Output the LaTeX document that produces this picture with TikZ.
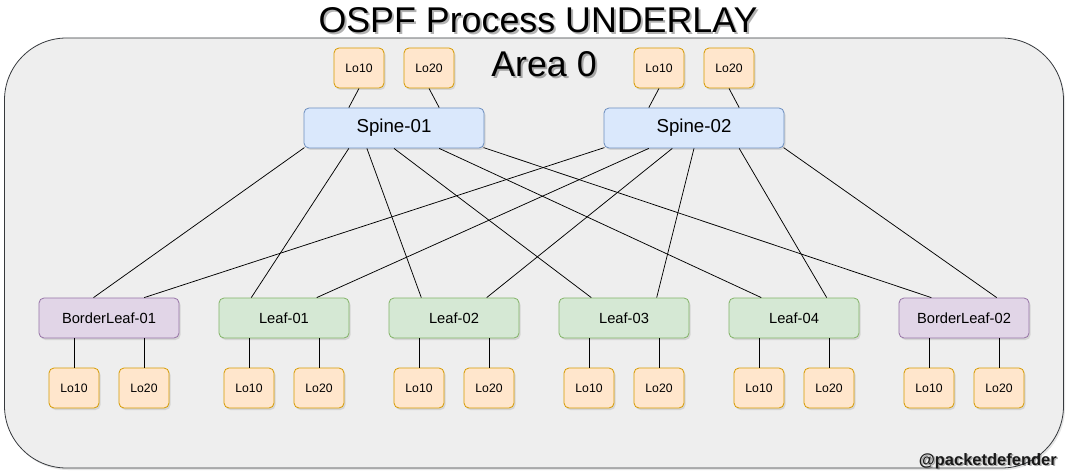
\documentclass[tikz,border=0pt]{standalone}
\usepackage{fontspec}
\setmainfont{Liberation Sans}
\usetikzlibrary{calc,shadows}
\definecolor{blueF}{HTML}{DAE8FC}\definecolor{blueD}{HTML}{6C8EBF}
\definecolor{greenF}{HTML}{D5E8D4}\definecolor{greenD}{HTML}{82B366}
\definecolor{purpF}{HTML}{E1D5E7}\definecolor{purpD}{HTML}{9673A6}
\definecolor{orF}{HTML}{FFE6CC}\definecolor{orD}{HTML}{D79B00}
\definecolor{contF}{HTML}{EEEEEE}\definecolor{contD}{HTML}{36393D}
\begin{document}
\begin{tikzpicture}[x=1pt,y=-1pt,
  box/.style={rounded corners=5pt, line width=0.8pt, inner sep=0pt,
    drop shadow={opacity=0.22, shadow xshift=1.5pt, shadow yshift=-2pt},
    font=\fontsize{14.7}{17}\selectfont},
  spinebox/.style={box, fill=blueF, draw=blueD, minimum width=180pt, minimum height=40pt, font=\fontsize{18.7}{21}\selectfont},
  leafbox/.style={box, fill=greenF, draw=greenD, minimum width=130pt, minimum height=40pt},
  borderbox/.style={box, fill=purpF, draw=purpD, minimum height=40pt},
  lobox/.style={box, fill=orF, draw=orD, minimum width=50pt, minimum height=40pt, font=\fontsize{12.2}{14}\selectfont},
  link/.style={line width=0.75pt, black},
  titletext/.style={font=\fontsize{35.8}{40}\selectfont, inner sep=0pt, anchor=base},
  shadowtext/.style={text=black, opacity=0.3}
]
\useasboundingbox (0,0) rectangle (1071,476);

% container
\node (area) [draw=contD, fill=contF, rounded corners=62pt, line width=0.8pt, inner sep=0pt,
  minimum width=1059pt, minimum height=430pt,
  drop shadow={opacity=0.2, shadow xshift=1.5pt, shadow yshift=-2pt}] at (534,253) {};

% titles
\node (titleS) [titletext, shadowtext] at (540,35) {OSPF Process UNDERLAY};
\node (title) [titletext] at (538,33) {OSPF Process UNDERLAY};
\node (areaS) [titletext, shadowtext] at (546,79) {Area 0};
\node (areat) [titletext] at (544,77) {Area 0};
\node (signS) [font=\bfseries\fontsize{16.5}{18}\selectfont, inner sep=0pt, anchor=base east, shadowtext] at (1058.5,466.5) {@packetdefender};
\node (sign) [font=\bfseries\fontsize{16.5}{18}\selectfont, inner sep=0pt, anchor=base east, text=black!90] at (1057,465) {@packetdefender};

% spines
\node (sp1) [spinebox] at (394,128) {Spine-01};
\node (sp2) [spinebox] at (694,128) {Spine-02};

% top loopbacks
\node (s1a) [lobox] at (359,68) {Lo10};
\node (s1b) [lobox] at (429,68) {Lo20};
\node (s2a) [lobox] at (659,68) {Lo10};
\node (s2b) [lobox] at (729,68) {Lo20};

% leaves
\node (bl1) [borderbox, minimum width=140pt] at (109,318) {BorderLeaf-01};
\node (l1) [leafbox] at (284,318) {Leaf-01};
\node (l2) [leafbox] at (454,318) {Leaf-02};
\node (l3) [leafbox] at (624,318) {Leaf-03};
\node (l4) [leafbox] at (794,318) {Leaf-04};
\node (bl2) [borderbox, minimum width=130pt] at (964,318) {BorderLeaf-02};

% bottom loopbacks
\foreach \n/\x in {bl1/74, l1/249, l2/419, l3/589, l4/759, bl2/929}{
  \node (\n a) [lobox] at (\x,388) {Lo10};
}
\foreach \n/\x in {bl1/144, l1/319, l2/489, l3/659, l4/829, bl2/999}{
  \node (\n b) [lobox] at (\x,388) {Lo20};
}

% top loopback links
\draw[link] (s1a.south) -- ($(sp1.north west)!0.25!(sp1.north east)$);
\draw[link] (s1b.south) -- ($(sp1.north west)!0.75!(sp1.north east)$);
\draw[link] (s2a.south) -- ($(sp2.north west)!0.25!(sp2.north east)$);
\draw[link] (s2b.south) -- ($(sp2.north west)!0.75!(sp2.north east)$);

% bottom loopback links
\foreach \n in {bl1,l1,l2,l3,l4,bl2}{
  \draw[link] (\n a.north) -- (\n a.north |- \n.south);
  \draw[link] (\n b.north) -- (\n b.north |- \n.south);
}

% spine-01 links
\draw[link] ($(sp1.south west)+(0.8,-0.8)$) -- ($(bl1.north west)!0.39!(bl1.north east)$);
\draw[link] ($(sp1.south west)!0.25!(sp1.south east)$) -- ($(l1.north west)!0.25!(l1.north east)$);
\draw[link] ($(sp1.south west)!0.35!(sp1.south east)$) -- ($(l2.north west)!0.25!(l2.north east)$);
\draw[link] ($(sp1.south west)!0.5!(sp1.south east)$) -- ($(l3.north west)!0.25!(l3.north east)$);
\draw[link] ($(sp1.south west)!0.75!(sp1.south east)$) -- ($(l4.north west)!0.25!(l4.north east)$);
\draw[link] ($(sp1.south east)+(-0.8,-0.8)$) -- ($(bl2.north west)!0.25!(bl2.north east)$);

% spine-02 links
\draw[link] ($(sp2.south west)+(0.8,-0.8)$) -- ($(bl1.north west)!0.75!(bl1.north east)$);
\draw[link] ($(sp2.south west)!0.25!(sp2.south east)$) -- ($(l1.north west)!0.75!(l1.north east)$);
\draw[link] ($(sp2.south west)!0.38!(sp2.south east)$) -- ($(l2.north west)!0.75!(l2.north east)$);
\draw[link] ($(sp2.south west)!0.5!(sp2.south east)$) -- ($(l3.north west)!0.75!(l3.north east)$);
\draw[link] ($(sp2.south west)!0.75!(sp2.south east)$) -- ($(l4.north west)!0.75!(l4.north east)$);
\draw[link] ($(sp2.south east)+(-0.8,-0.8)$) -- ($(bl2.north west)!0.75!(bl2.north east)$);

\end{tikzpicture}
\end{document}
